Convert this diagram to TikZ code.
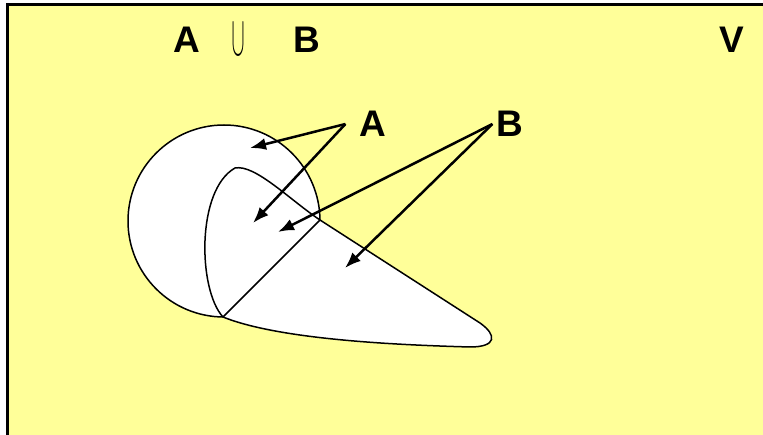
\documentclass[tikz,border=0pt]{standalone}
\usepackage{fontspec}
\setmainfont{Liberation Sans}
\usetikzlibrary{arrows.meta}
\definecolor{pale}{HTML}{FFFF99}
\begin{document}
\begin{tikzpicture}[x=1pt, y=-1pt,
        lbl/.style={font=\fontsize{37}{40}\selectfont\bfseries, inner sep=0pt},
        ptr/.style={color = black, line width=2.5pt, -{Latex[length=16pt,width=12pt]}},
        rim/.style={color = black, line width=1.5pt, fill=white}]
        \useasboundingbox (0,0) rectangle (763,435);
        \draw[line width=2.5pt, fill=pale] (7.5,4.5) rectangle (780,450);
        % titles
        \node[lbl] (ta) at (187,40) {A};
        \node[inner sep=0pt] (cup) at (238,39) {\resizebox*{12pt}{40pt}{$\displaystyle\bigcup$}};
        \node[lbl] (tb) at (307,40) {B};
        \node[lbl] (tv) at (732,40) {V};
        % sets
        \coordinate (lo) at (223,317);
        \coordinate (hi) at (320,220);
        \draw[rim] (224,221) circle[radius=96pt];
        \draw[rim] (lo) .. controls (198,290) and (196,190) .. (235,168)
            .. controls (255,164) and (290,200) .. (hi) -- (480,323)
            .. controls (497,335) and (497,347) .. (470,347)
            .. controls (400,345) and (280,340) .. (lo) -- cycle;
        \draw[color = black, line width=1.5pt] (lo) -- (hi);
        % labels and arrows
        \node[lbl] (la) at (373,124) {A};
        \node[lbl] (lb) at (510,124) {B};
        \coordinate (a1) at (250,148);
        \coordinate (a2) at (253,223);
        \coordinate (b1) at (278,232);
        \coordinate (b2) at (345,268);
        \draw[ptr] ([xshift=-14pt]la.west) -- (a1);
        \draw[ptr] ([xshift=-14pt]la.west) -- (a2);
        \draw[ptr] ([xshift=-4pt]lb.west) -- (b1);
        \draw[ptr] ([xshift=-4pt]lb.west) -- (b2);
\end{tikzpicture}
\end{document}
